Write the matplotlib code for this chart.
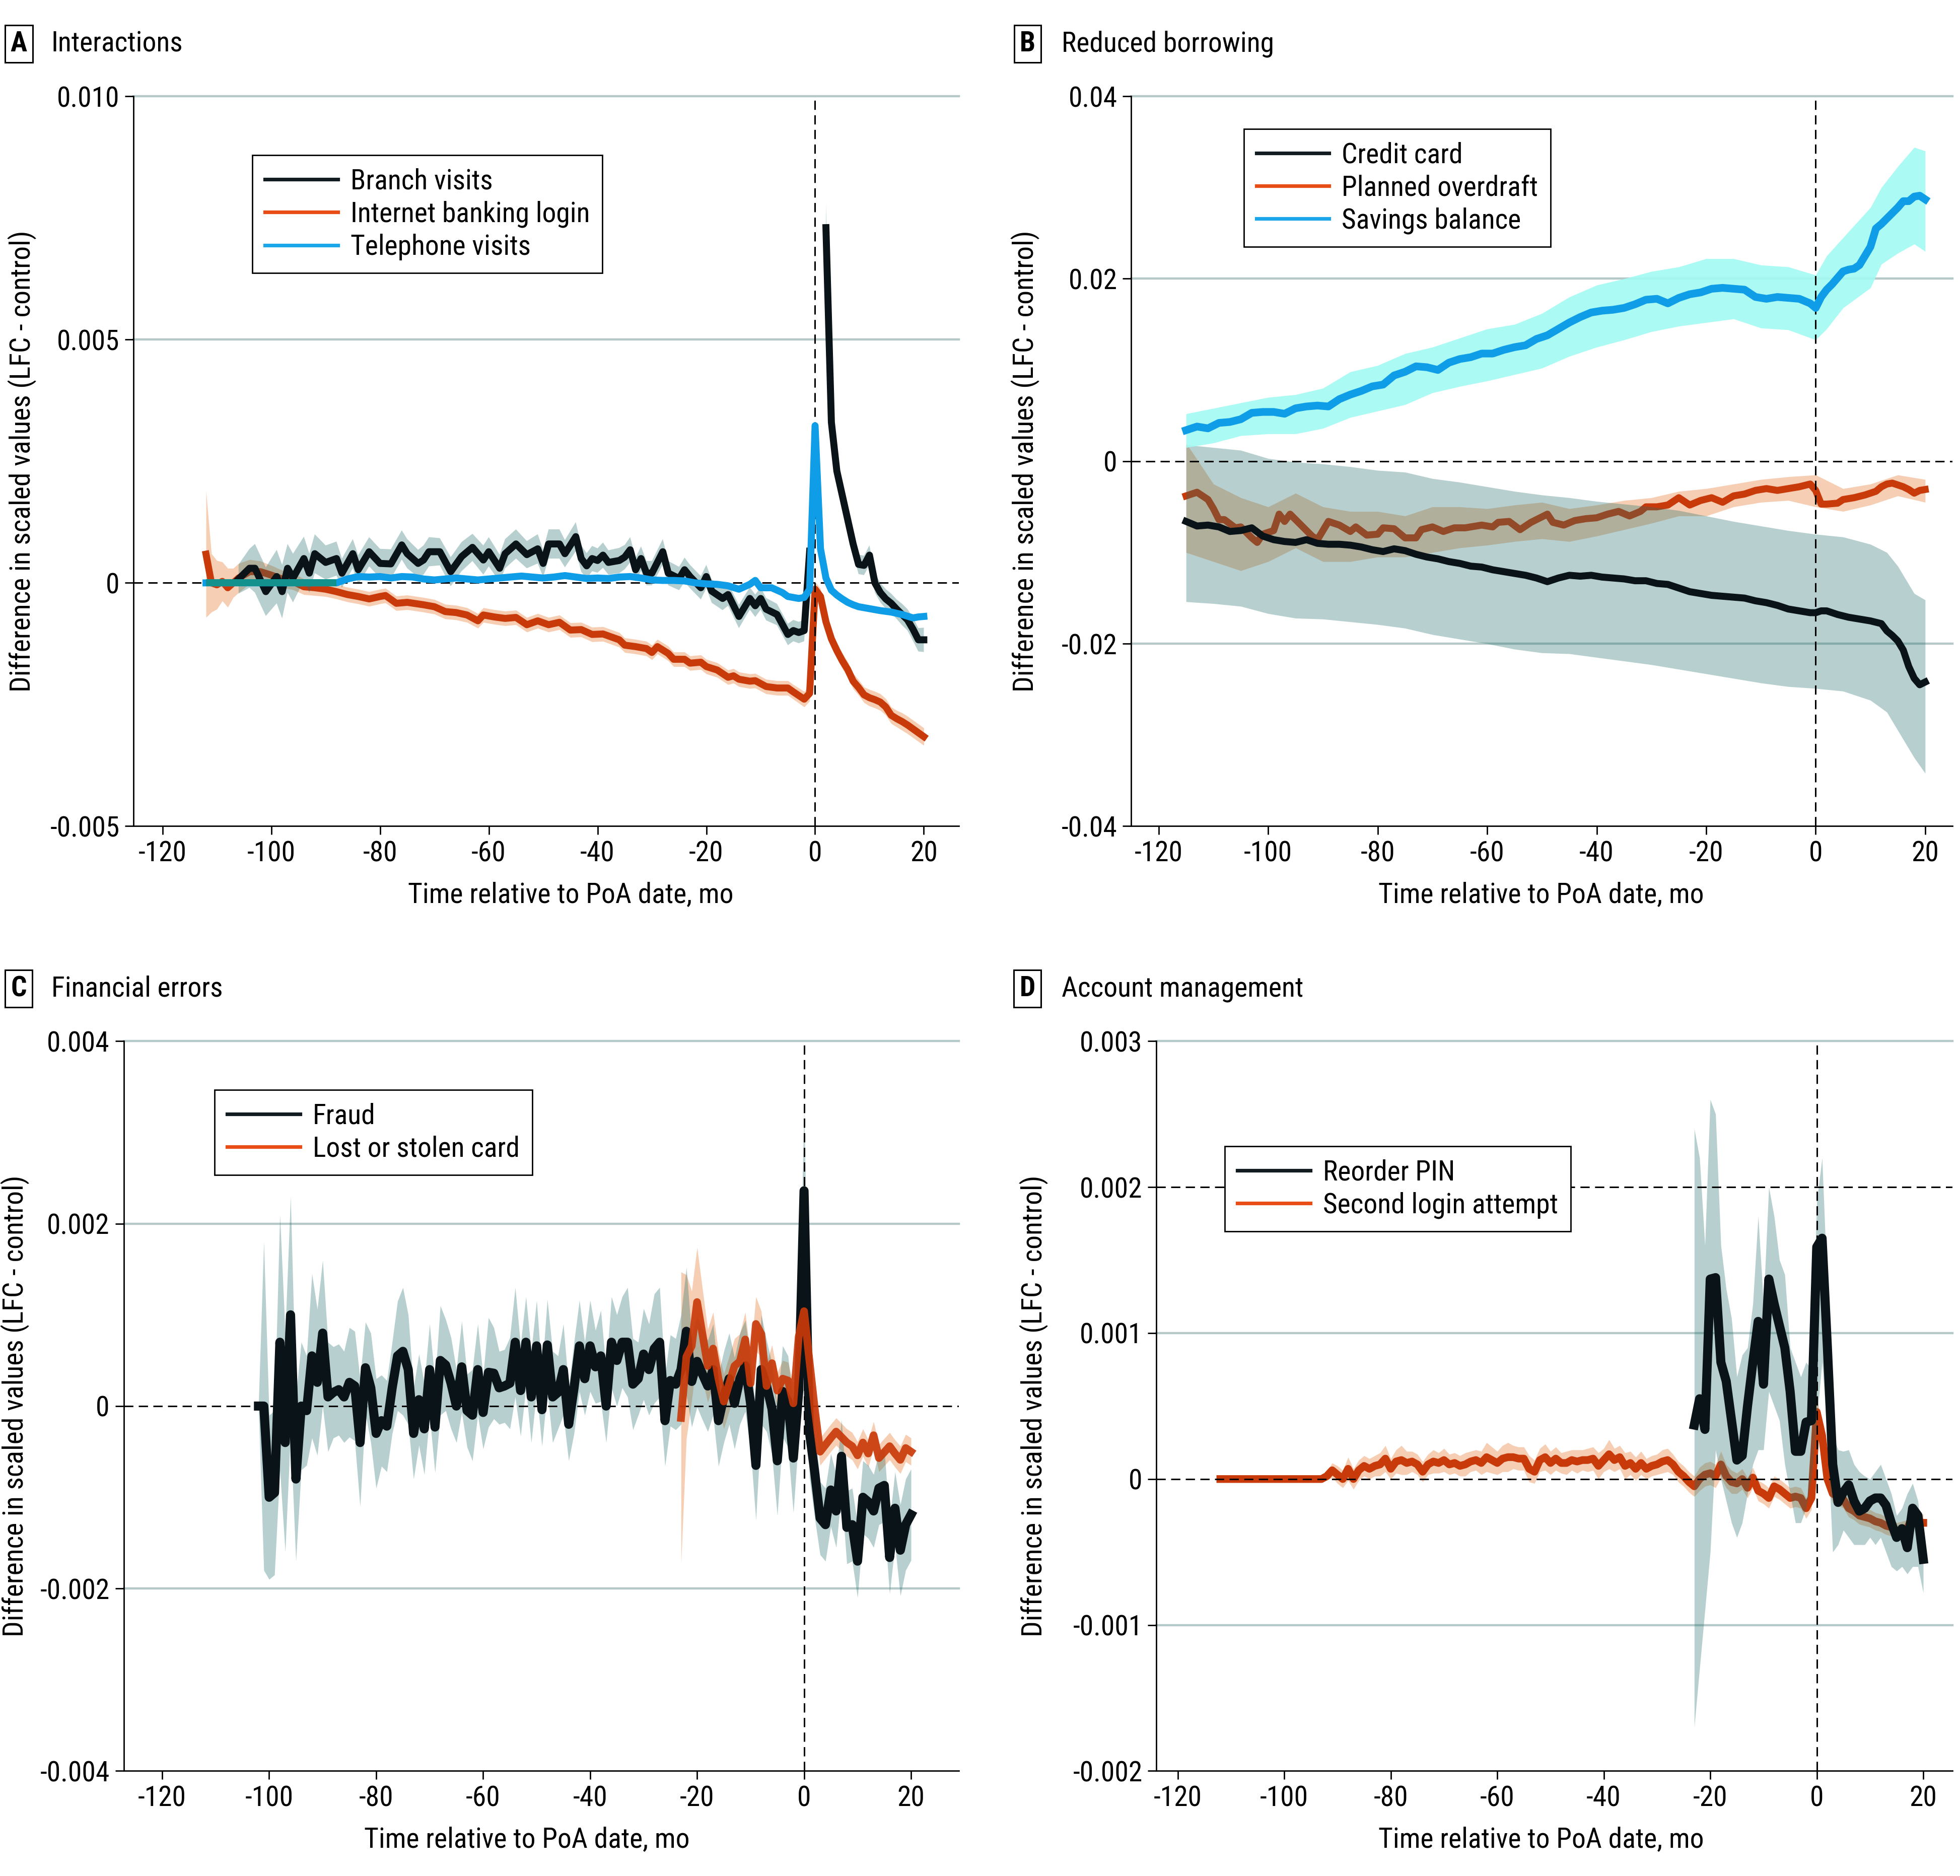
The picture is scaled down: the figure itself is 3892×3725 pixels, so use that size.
import matplotlib
matplotlib.use("Agg")
import matplotlib.pyplot as plt
from matplotlib import font_manager
from matplotlib.lines import Line2D
import numpy as np

nan = np.nan

# ---------------- Panel A: Interactions ----------------
branch_x = [-106, -104, -103, -101, -99, -98, -97, -96, -94, -93,
            -92, -90, -88, -87, -85, -84, -82, -80, -78, -76,
            -75, -73, -72, -71, -69, -67, -65, -63, -61, -60,
            -58, -57, -55, -53, -51, -50, -49, -47, -46, -44,
            -43, -42, -41, -40, -39, -38, -36, -35, -34, -33,
            -32, -31, -30, -28, -27, -25, -24, -23, -21, -20,
            -19, -17, -16, -14, -12, -11, -10, -9, -7, -5,
            -4, -3, -2, -1, 0, 1, 2, 3, 4, 5,
            6, 7, 8, 9, 10, 11, 12, 13, 14, 15,
            16, 17, 18, 19, 20]
branch_y = [0.00008, 0.0003, 0.0003, -0.00018, 0.00013, -0.00018, 0.0003, 0.0001, 0.0005, 0.0002,
            0.0006, 0.00042, 0.0005, 0.0002, 0.0006, 0.00027, 0.00064, 0.0004, 0.00039, 0.00078,
            0.0006, 0.0004, 0.00047, 0.00064, 0.00064, 0.00023, 0.00054, 0.00073, 0.00047, 0.00064,
            0.0003, 0.0006, 0.0008, 0.00058, 0.0007, 0.0004, 0.0008, 0.0008, 0.0006, 0.00095,
            0.0005, 0.00035, 0.0005, 0.00046, 0.00057, 0.00042, 0.00046, 0.00053, 0.00068, 0.00027,
            0.0005, 0.0002, 0.0002, 0.00064, 0.0002, 0.00009, 0.00027, 0.00013, -0.0001, 0.00013,
            -0.00017, -0.00032, -0.00024, -0.00069, -0.00032, -0.00047, -0.00032, -0.00054, -0.00065, -0.00106,
            -0.00098, -0.00102, -0.00098, 0.00065, nan, nan, 0.0073, 0.0033, 0.0023, 0.0018,
            0.0013, 0.0008, 0.00038, 0.00036, 0.00057, 0.0, -0.0002, -0.00033, -0.00042, -0.00054,
            -0.00065, -0.00076, -0.00095, -0.00117, -0.00117]
branch_hw = [0.0003, 0.0004, 0.0005, 0.0005, 0.00055, 0.00055, 0.0005, 0.0005, 0.00045, 0.0004,
             0.0004, 0.00035, 0.00035, 0.0003, 0.0003, 0.0003, 0.0003, 0.0003, 0.0003, 0.0003,
             0.0003, 0.00028, 0.0003, 0.0003, 0.00028, 0.0003, 0.0003, 0.00028, 0.0003, 0.0003,
             0.00028, 0.0003, 0.0003, 0.00028, 0.0003, 0.00028, 0.0003, 0.0003, 0.00028, 0.0003,
             0.00027, 0.00026, 0.00026, 0.00025, 0.00026, 0.00025, 0.00026, 0.00025, 0.00026, 0.00025,
             0.00025, 0.00025, 0.00025, 0.00026, 0.00025, 0.00024, 0.00025, 0.00024, 0.00024, 0.00024,
             0.00024, 0.00024, 0.00023, 0.00024, 0.00023, 0.00023, 0.00023, 0.00023, 0.00022, 0.00022,
             0.00022, 0.00022, 0.00022, 0.0002, nan, nan, 0.0005, 0.0002, 0.0002, 0.0002,
             0.0002, 0.0002, 0.0002, 0.0002, 0.0002, 0.0002, 0.0002, 0.0002, 0.0002, 0.0002,
             0.00022, 0.00022, 0.00024, 0.00024, 0.00025]

tel_x = [-112, -88, -86, -84, -82, -80, -78, -76, -74, -72,
         -70, -68, -66, -64, -62, -60, -58, -56, -54, -52,
         -50, -48, -46, -44, -42, -40, -38, -36, -34, -32,
         -30, -28, -26, -24, -22, -20, -18, -16, -14, -12,
         -11, -10, -8, -6, -5, -3, -2, -1, 0, 1,
         2, 3, 4, 5, 6, 7, 8, 10, 12, 14,
         16, 18, 19, 20]
tel_y = [0.0, 0.0, 0.00008, 0.00013, 0.00012, 0.00013, 0.0001, 0.00013, 0.00012, 0.00008,
         0.00006, 0.00008, 0.0001, 0.00008, 0.00006, 0.00008, 0.0001, 0.00012, 0.00014, 0.00012,
         0.0001, 0.00012, 0.00015, 0.00012, 0.00009, 0.0001, 0.00009, 0.00012, 0.00013, 0.0001,
         0.00006, 0.00005, 0.00005, 0.00004, 0.0, -0.00002, -0.00003, -0.00006, -0.00013, -0.00003,
         0.00005, -0.0001, -0.0001, -0.0002, -0.00028, -0.00032, -0.0003, -0.00013, 0.00323, 0.0007,
         0.0001, -0.00015, -0.00025, -0.00033, -0.0004, -0.00045, -0.00049, -0.00053, -0.00057, -0.0006,
         -0.00065, -0.00072, -0.0007, -0.00069]

net_x = [-112, -111, -110, -109, -108, -107, -106, -104, -102, -100,
         -98, -96, -94, -92, -90, -88, -86, -84, -82, -80,
         -79, -77, -75, -72, -70, -68, -66, -64, -62, -61,
         -59, -57, -55, -53, -51, -49, -47, -45, -43, -41,
         -39, -38, -36, -35, -33, -31, -30, -29, -27, -26,
         -24, -23, -21, -20, -18, -16, -15, -14, -12, -11,
         -9, -7, -5, -4, -2, -1, 0, 1, 2, 3,
         4, 5, 6, 7, 8, 9, 10, 11, 12, 13,
         14, 15, 16, 17, 18, 19, 20]
net_y = [0.00059, 0.0, -0.00004, 0.00003, -0.0001, 0.0, 0.0001, 0.00023, 0.00023, 0.00016,
         0.00008, 0.00003, -0.00008, -0.0001, -0.00013, -0.00018, -0.00024, -0.00028, -0.00033, -0.00028,
         -0.00026, -0.00042, -0.0004, -0.00045, -0.00049, -0.00059, -0.00061, -0.00066, -0.00078, -0.00066,
         -0.0007, -0.00073, -0.00071, -0.00086, -0.00078, -0.00086, -0.00081, -0.00097, -0.00096, -0.00106,
         -0.00105, -0.00109, -0.00117, -0.00128, -0.00131, -0.00135, -0.00143, -0.00131, -0.00145, -0.00157,
         -0.00157, -0.00165, -0.00163, -0.00172, -0.00179, -0.00194, -0.00191, -0.00198, -0.00202, -0.00201,
         -0.00213, -0.00216, -0.00216, -0.00224, -0.00239, -0.00227, -0.00013, -0.00028, -0.0008, -0.00115,
         -0.00139, -0.0016, -0.00178, -0.00202, -0.00215, -0.0023, -0.00236, -0.0024, -0.00245, -0.00255,
         -0.00272, -0.00279, -0.00285, -0.00292, -0.003, -0.00308, -0.00316]
net_hw = [0.0013, 0.0006, 0.0005, 0.0004, 0.0004, 0.0003, 0.0003, 0.00025, 0.00022, 0.0002,
          0.00018, 0.00017, 0.00016, 0.00016, 0.00015, 0.00015, 0.00015, 0.00015, 0.00015, 0.00015,
          0.00015, 0.00015, 0.00015, 0.00015, 0.00015, 0.00015, 0.00015, 0.00015, 0.00015, 0.00015,
          0.00015, 0.00015, 0.00015, 0.00015, 0.00015, 0.00015, 0.00015, 0.00015, 0.00015, 0.00015,
          0.00015, 0.00015, 0.00015, 0.00015, 0.00015, 0.00015, 0.00015, 0.00015, 0.00015, 0.00015,
          0.00015, 0.00015, 0.00015, 0.00015, 0.00015, 0.00015, 0.00015, 0.00015, 0.00015, 0.00015,
          0.00015, 0.00015, 0.00015, 0.00015, 0.00016, 0.00016, 0.00016, 0.00016, 0.00016, 0.00016,
          0.00016, 0.00016, 0.00016, 0.00016, 0.00016, 0.00016, 0.00017, 0.00017, 0.00017, 0.00017,
          0.00017, 0.00017, 0.00018, 0.00018, 0.00018, 0.00018, 0.00018]

# ---------------- Panel B: Reduced borrowing ----------------
savings_x = [-115, -113, -111, -109, -107, -105, -103, -101, -99, -97,
             -95, -93, -91, -89, -87, -85, -83, -81, -79, -77,
             -75, -73, -71, -69, -67, -65, -63, -61, -59, -57,
             -55, -53, -51, -49, -47, -45, -43, -41, -39, -37,
             -35, -33, -31, -29, -27, -25, -23, -21, -19, -17,
             -15, -13, -11, -9, -7, -5, -3, -1,
             0, 1, 2, 3, 4, 5, 6, 7, 8, 9, 10,
             11, 12, 13, 14, 15, 16, 17, 18, 19, 20]
savings_y = [0.0034, 0.0038, 0.0036, 0.0042, 0.0043, 0.0046, 0.0053, 0.0054, 0.0054, 0.0052,
             0.0058, 0.0060, 0.0061, 0.0060, 0.0068, 0.0073, 0.0077, 0.0082, 0.0084, 0.0094,
             0.0098, 0.0104, 0.0103, 0.0100, 0.0108, 0.0112, 0.0114, 0.0118, 0.0118, 0.0122,
             0.0125, 0.0127, 0.0134, 0.0138, 0.0145, 0.0152, 0.0158, 0.0163, 0.0165, 0.0166,
             0.0168, 0.0172, 0.0177, 0.0178, 0.0173, 0.0179, 0.0183, 0.0185, 0.0189, 0.0190,
             0.0189, 0.0188, 0.0180, 0.0178, 0.0180, 0.0179, 0.0178, 0.0173,
             0.0168, 0.0180, 0.0188, 0.0194, 0.0201, 0.0208, 0.0210, 0.0211, 0.0215, 0.0225, 0.0235,
             0.0255, 0.0260, 0.0266, 0.0272, 0.0278, 0.0285, 0.0285, 0.0290, 0.0291, 0.0287]
sav_band_x = [-115, -110, -105, -100, -95, -90, -85, -80, -75, -70,
              -65, -60, -55, -50, -45, -40, -35, -30, -25, -20,
              -15, -10, -5, 0, 2, 5, 10, 12, 15, 18, 20]
sav_hi = [0.0052, 0.0058, 0.0064, 0.0070, 0.0073, 0.0080, 0.0098, 0.0105, 0.0118, 0.0125,
          0.0135, 0.0145, 0.0150, 0.0162, 0.0180, 0.0193, 0.0200, 0.0208, 0.0213, 0.0222,
          0.0222, 0.0215, 0.0213, 0.0204, 0.0225, 0.0245, 0.0278, 0.0300, 0.0323, 0.0344, 0.0340]
sav_lo = [0.0015, 0.0020, 0.0028, 0.0030, 0.0030, 0.0036, 0.0048, 0.0055, 0.0062, 0.0075,
          0.0082, 0.0088, 0.0095, 0.0102, 0.0115, 0.0125, 0.0133, 0.0142, 0.0148, 0.0152,
          0.0156, 0.0146, 0.0144, 0.0133, 0.0145, 0.0168, 0.0190, 0.0216, 0.0228, 0.0238, 0.0230]

credit_x = [-115, -113, -111, -109, -107, -105, -103, -101, -99, -97,
            -95, -93, -91, -89, -87, -85, -83, -81, -79, -77,
            -75, -73, -71, -69, -67, -65, -63, -61, -59, -57,
            -55, -53, -51, -49, -47, -45, -43, -41, -39, -37,
            -35, -33, -31, -29, -27, -25, -23, -21, -19, -17,
            -15, -13, -11, -9, -7, -5, -3, -1,
            0, 1, 2, 4, 6, 8, 10, 12, 13, 14, 15, 16, 17, 18, 19, 20]
credit_y = [-0.0066, -0.0071, -0.0070, -0.0072, -0.0077, -0.0076, -0.0073, -0.0082, -0.0086, -0.0088,
            -0.0089, -0.0086, -0.0090, -0.0091, -0.0091, -0.0092, -0.0094, -0.0097, -0.0099, -0.0096,
            -0.0098, -0.0102, -0.0105, -0.0107, -0.0110, -0.0112, -0.0115, -0.0116, -0.0119, -0.0121,
            -0.0123, -0.0125, -0.0128, -0.0132, -0.0128, -0.0125, -0.0126, -0.0125, -0.0127, -0.0128,
            -0.0129, -0.0131, -0.0131, -0.0134, -0.0135, -0.0139, -0.0143, -0.0145, -0.0147, -0.0148,
            -0.0149, -0.0150, -0.0153, -0.0155, -0.0158, -0.0162, -0.0164, -0.0166,
            -0.0166, -0.0164, -0.0164, -0.0168, -0.0171, -0.0173, -0.0175, -0.0178, -0.0186, -0.0191,
            -0.0197, -0.0207, -0.0225, -0.0238, -0.0245, -0.0242]
credit_band_x = [-115, -110, -105, -100, -95, -90, -85, -80, -75, -70,
                 -65, -60, -55, -50, -45, -40, -35, -30, -25, -20,
                 -15, -10, -5, 0, 5, 10, 13, 15, 17, 18, 20]
credit_hi = [0.0018, 0.0015, 0.0012, 0.0003, -0.0001, -0.0003, -0.0006, -0.0010, -0.0012, -0.0019,
             -0.0023, -0.0028, -0.0033, -0.0037, -0.0040, -0.0044, -0.0047, -0.0050, -0.0054, -0.0060,
             -0.0066, -0.0071, -0.0076, -0.0080, -0.0083, -0.0091, -0.0100, -0.0115, -0.0135, -0.0145, -0.0152]
credit_lo = [-0.0154, -0.0156, -0.0159, -0.0167, -0.0172, -0.0173, -0.0176, -0.0179, -0.0183, -0.0190,
             -0.0195, -0.0200, -0.0206, -0.0210, -0.0211, -0.0215, -0.0219, -0.0223, -0.0228, -0.0233,
             -0.0238, -0.0243, -0.0247, -0.0249, -0.0252, -0.0262, -0.0275, -0.0295, -0.0315, -0.0325, -0.0342]

od_x = [-115, -113, -111, -110, -109, -108, -106, -105, -103, -102,
        -101, -99, -98, -97, -96, -94, -92, -91, -89, -87,
        -85, -84, -82, -80, -79, -77, -75, -73, -72, -70,
        -68, -66, -64, -61, -59, -58, -56, -54, -52, -49,
        -48, -46, -44, -42, -40, -38, -36, -34, -32, -31,
        -29, -27, -25, -23, -21, -19, -17, -15, -13, -11,
        -9, -7, -5, -3, -1, 0, 1, 2, 4, 5,
        7, 9, 11, 12, 13, 14, 15, 16, 17, 18, 19, 20]
od_y = [-0.0038, -0.0034, -0.0042, -0.0052, -0.0064, -0.0064, -0.0073, -0.0072, -0.0084, -0.0089,
        -0.0080, -0.0076, -0.0058, -0.0066, -0.0058, -0.0070, -0.0082, -0.0086, -0.0066, -0.0070,
        -0.0077, -0.0072, -0.0081, -0.0080, -0.0073, -0.0074, -0.0084, -0.0084, -0.0075, -0.0072,
        -0.0077, -0.0073, -0.0073, -0.0070, -0.0072, -0.0067, -0.0066, -0.0075, -0.0067, -0.0058,
        -0.0067, -0.0070, -0.0065, -0.0063, -0.0062, -0.0058, -0.0055, -0.0060, -0.0055, -0.0050,
        -0.0050, -0.0048, -0.0040, -0.0048, -0.0043, -0.0040, -0.0045, -0.0038, -0.0036, -0.0032,
        -0.0030, -0.0032, -0.0030, -0.0028, -0.0025, -0.0032, -0.0047, -0.0047, -0.0046, -0.0042,
        -0.0040, -0.0037, -0.0033, -0.0028, -0.0025, -0.0024, -0.0026, -0.0028, -0.0031, -0.0035, -0.0032, -0.0031]
od_band_x = [-115, -110, -105, -100, -95, -90, -85, -80, -75, -70,
             -65, -60, -55, -50, -45, -40, -35, -30, -25, -20,
             -15, -10, -5, 0, 5, 10, 15, 20]
od_hi = [0.0020, -0.0025, -0.0040, -0.0050, -0.0035, -0.0050, -0.0055, -0.0055, -0.0060, -0.0050,
         -0.0050, -0.0052, -0.0048, -0.0045, -0.0052, -0.0048, -0.0043, -0.0040, -0.0033, -0.0030,
         -0.0025, -0.0020, -0.0017, -0.0015, -0.0030, -0.0025, -0.0015, -0.0020]
od_lo = [-0.0100, -0.0110, -0.0120, -0.0110, -0.0095, -0.0110, -0.0110, -0.0105, -0.0105, -0.0100,
         -0.0095, -0.0092, -0.0088, -0.0085, -0.0088, -0.0082, -0.0075, -0.0068, -0.0060, -0.0060,
         -0.0050, -0.0045, -0.0043, -0.0050, -0.0055, -0.0048, -0.0038, -0.0045]

# ---------------- Panel C: Financial errors ----------------
fraud_x = list(range(-102, 21))
fraud_y = [0.0, 0.0, -0.001, -0.00095, 0.0007, -0.0004, 0.001, -0.0008, 0.0, -0.00005,
           0.00055, 0.00026, 0.0008, 0.0001, 0.00015, 0.00018, 0.0001, 0.00026, 0.00022, -0.0004,
           0.00042, 0.0002, -0.0003, -0.00016, -0.00022, 0.0002, 0.00055, 0.0006, 0.0004, -0.0003,
           0.00007, -0.00025, 0.0004, -0.00023, 0.0005, 0.00045, 0.00025, 0.0, 0.00043, -0.00005,
           -0.0001, 0.0004, -0.00007, 0.00037, 0.00036, 0.0002, 0.00022, 0.00025, 0.0007, 0.00017,
           0.0007, 0.0001, 0.00066, -0.00004, 0.00067, 0.0001, 0.00015, 0.0004, -0.0002, 0.0002,
           0.00066, 0.0003, 0.00066, 0.00043, 0.00055, 0.0, 0.0007, 0.0005, 0.0007, 0.0007,
           0.00024, 0.0003, 0.00057, 0.0004, 0.00063, 0.0007, -0.00016, 0.00028, 0.00024, 0.0004,
           0.00082, 0.00027, 0.00049, 0.00035, 0.00022, 0.0004, -0.00016, 0.0001, 0.0003, 0.00003,
           0.0003, 0.00044, 0.00003, -0.00065, 0.0004, 0.00022, -0.00003, -0.0006, 0.00016, 0.00005,
           -0.00057, 0.00016, 0.00236, -0.00028, -0.00073, -0.00123, -0.0013, -0.00092, -0.00115, -0.00055,
           -0.00133, -0.0013, -0.0017, -0.001, -0.00105, -0.00115, -0.0009, -0.00087, -0.00166, -0.00112,
           -0.00158, -0.0013, -0.00119]
fraud_hw = [0.0, 0.0018, 0.0009, 0.0009, 0.0014, 0.0012, 0.0013, 0.0009, 0.0007, 0.0006,
            0.0009, 0.0008, 0.0008, 0.0006, 0.0005, 0.0005, 0.0005, 0.0006, 0.0006, 0.0007,
            0.0005, 0.0006, 0.0006, 0.0005, 0.0005, 0.0005, 0.0006, 0.0007, 0.0006, 0.0005,
            0.0005, 0.0005, 0.0005, 0.0005, 0.0006, 0.0005, 0.0005, 0.0004, 0.0005, 0.0004,
            0.0005, 0.0005, 0.0004, 0.0006, 0.0005, 0.0004, 0.0004, 0.0005, 0.0006, 0.0005,
            0.0005, 0.0005, 0.0005, 0.0004, 0.0005, 0.0005, 0.0004, 0.0005, 0.0004, 0.0005,
            0.0005, 0.0004, 0.0005, 0.0004, 0.0005, 0.0004, 0.0005, 0.0005, 0.0005, 0.0006,
            0.0005, 0.0004, 0.0005, 0.0005, 0.0006, 0.0006, 0.0005, 0.0005, 0.0005, 0.0006,
            0.0007, 0.0005, 0.0005, 0.0005, 0.0005, 0.0005, 0.0005, 0.0005, 0.0005, 0.0005,
            0.0005, 0.0005, 0.0005, 0.0006, 0.0006, 0.0005, 0.0005, 0.0006, 0.0005, 0.0005,
            0.0006, 0.0005, 0.0009, 0.0005, 0.0005, 0.0004, 0.0004, 0.0004, 0.0004, 0.0004,
            0.0004, 0.0004, 0.0004, 0.0004, 0.0004, 0.0004, 0.0004, 0.0004, 0.0004, 0.0004,
            0.0005, 0.0005, 0.0005]

lost_x = [-23, -22, -21, -20, -18, -17, -16, -15, -13, -12,
          -11, -10, -9, -8, -7, -6, -5, -4, -3, -2,
          -1, 0, 1, 2, 3, 5, 6, 8, 9, 10,
          11, 12, 13, 14, 16, 17, 18, 19, 20]
lost_y = [-0.00013, 0.00054, 0.00066, 0.00114, 0.00044, 0.00063, 0.0003, 0.00005, 0.00044, 0.00049,
          0.00073, 0.00025, 0.0009, 0.00079, 0.00022, 0.00047, 0.00017, 0.0003, 0.00028, 0.00003,
          0.00076, 0.00104, 0.0005, -0.00003, -0.0005, -0.00035, -0.00028, -0.0004, -0.00044, -0.00054,
          -0.0004, -0.00052, -0.00032, -0.00057, -0.00044, -0.00052, -0.00059, -0.00046, -0.0005]
lost_hw = [0.0016, 0.0009, 0.0006, 0.0006, 0.0004, 0.0004, 0.0003, 0.0003, 0.0003, 0.0003,
           0.0003, 0.0003, 0.0003, 0.00025, 0.00025, 0.0002, 0.0002, 0.0002, 0.0002, 0.0002,
           0.0002, 0.00025, 0.0002, 0.00015, 0.00015, 0.00015, 0.00015, 0.00015, 0.00015, 0.00015,
           0.00015, 0.00015, 0.00015, 0.00015, 0.00015, 0.00015, 0.00015, 0.00015, 0.00015]

# ---------------- Panel D: Account management ----------------
pin_x = list(range(-23, 21))
pin_y = [0.00037, 0.00055, 0.00034, 0.00137, 0.00138, 0.0008, 0.00067, 0.0004, 0.00013, 0.00016,
         0.0005, 0.0008, 0.00108, 0.00065, 0.00137, 0.0012, 0.00105, 0.0009, 0.0006, 0.00019,
         0.00019, 0.00039, 0.0004, 0.00159, 0.00165, 0.0009, 0.0001, -0.00016, -0.00009, -0.00004,
         -0.00015, -0.00022, -0.0002, -0.00015, -0.00013, -0.00013, -0.00018, -0.0003, -0.0004, -0.00034,
         -0.00047, -0.0002, -0.00025, -0.00055]
pin_hi = [0.0024, 0.0022, 0.0016, 0.0026, 0.0025, 0.0016, 0.0013, 0.0011, 0.0007, 0.00085,
          0.0009, 0.0012, 0.0018, 0.0012, 0.002, 0.0018, 0.0015, 0.0014, 0.0009, 0.0008,
          0.0007, 0.0008, 0.00075, 0.0019, 0.0022, 0.0013, 0.0003, 0.0002, 0.00019, 0.0002,
          0.0001, 0.00005, 0.00002, 0.0, 0.00005, 0.0001, 0.0, -0.0001, -0.00025, -0.0002,
          -0.0001, -0.00003, -0.00015, -0.0005]
pin_lo = [-0.0017, -0.0013, -0.0009, -0.0005, 0.0002, 0.0, -0.00015, -0.0003, -0.0004, -0.0003,
          -0.0001, 0.0001, 0.0002, 0.0002, 0.0006, 0.0005, 0.0004, 0.0001, -0.0001, -0.0003,
          -0.0003, -0.0002, 0.0, 0.0004, 0.0008, 0.0003, -0.0005, -0.00045, -0.00035, -0.0004,
          -0.00045, -0.00045, -0.00045, -0.0004, -0.00045, -0.0004, -0.0005, -0.0006, -0.00063, -0.0006,
          -0.00065, -0.0006, -0.0006, -0.00078]

login_x = [-112, -93] + list(range(-92, 21))
login_y = [0.0, 0.0,
           0.00002, 0.00006, 0.00003, 0.0, 0.00007, 0.0, 0.00006, 0.00009, 0.00007, 0.00009,
           0.0001, 0.00014, 0.00007, 0.00012, 0.00013, 0.00011, 0.00012, 0.0001, 0.00005, 0.0001,
           0.00012, 0.00011, 0.00013, 0.0001, 0.00011, 0.00009, 0.0001, 0.00012, 0.00013, 0.00011,
           0.00015, 0.00013, 0.00011, 0.00014, 0.00015, 0.00015, 0.00014, 0.00014, 0.00007, 0.00005,
           0.00013, 0.00015, 0.00011, 0.00014, 0.00011, 0.00011, 0.00013, 0.00012, 0.00013, 0.00013,
           0.00014, 0.00009, 0.00013, 0.00017, 0.00013, 0.00015, 0.00009, 0.00011, 0.00007, 0.00011,
           0.00007, 0.00009, 0.0001, 0.00012, 0.00013, 0.0001, 0.00005, 0.00002, -0.00002, -0.00005,
           0.0, 0.00003, 0.00004, 0.00002, 0.0001, 0.00002, -0.00002, -0.00003, 0.0, -0.00006,
           0.00001, -0.00008, -0.0001, -0.00013, -0.00005, -0.00007, -0.0001, -0.00013, -0.00012, -0.00013,
           -0.0002, -0.00013, 0.00046, 0.0003, 0.0, -0.0001, -0.00012, -0.00014, -0.0002, -0.00022,
           -0.00025, -0.00026, -0.00027, -0.00029, -0.0003, -0.00032, -0.00033, -0.00036, -0.00035, -0.00034,
           -0.00025, -0.0003, -0.0003]
login_hw = [0.0, 0.0,
            0.00003, 0.00005, 0.00006, 0.00006, 0.00008, 0.00007, 0.00007, 0.00007, 0.00007, 0.00007,
            0.00008, 0.00009, 0.00007, 0.00008, 0.0001, 0.00008, 0.00007, 0.00007, 0.00007, 0.00007,
            0.00008, 0.00007, 0.00008, 0.00007, 0.00007, 0.00007, 0.00008, 0.00007, 0.00007, 0.00008,
            0.0001, 0.00009, 0.00008, 0.00009, 0.0001, 0.00008, 0.00008, 0.00008, 0.00009, 0.00008,
            0.00008, 0.00009, 0.00008, 0.00008, 0.00007, 0.00008, 0.00007, 0.00008, 0.00007, 0.00008,
            0.00008, 0.00009, 0.00008, 0.0001, 0.00008, 0.00008, 0.00009, 0.00008, 0.00008, 0.00008,
            0.00007, 0.00007, 0.00007, 0.00008, 0.00008, 0.00007, 0.00007, 0.00007, 0.00007, 0.00007,
            0.00008, 0.00008, 0.00008, 0.00008, 0.00009, 0.00008, 0.00008, 0.00007, 0.00007, 0.00007,
            0.00007, 0.00007, 0.00007, 0.00007, 0.00007, 0.00007, 0.00007, 0.00007, 0.00007, 0.00007,
            0.00007, 0.00008, 0.0001, 0.00008, 0.00007, 0.00006, 0.00006, 0.00006, 0.00006, 0.00006,
            0.00006, 0.00006, 0.00006, 0.00006, 0.00006, 0.00006, 0.00006, 0.00006, 0.00006, 0.00006,
            0.00006, 0.00006, 0.00006]

xtick_vals = [-120, -100, -80, -60, -40, -20, 0, 20]


# ---------------- styling ----------------
def pick_font(names):
    for n in names:
        try:
            font_manager.findfont(font_manager.FontProperties(family=n),
                                  fallback_to_default=False)
            return n
        except Exception:
            pass
    return 'DejaVu Sans'


FONT = pick_font(['Liberation Sans Narrow', 'Roboto Condensed', 'Liberation Sans'])
plt.rcParams['font.family'] = [FONT, 'DejaVu Sans']
plt.rcParams['font.size'] = 20 if FONT != 'Liberation Sans' else 17.5

BLACK = '#0a1317'
ORANGE = '#c93a0b'
BLUE = '#0f9de8'
TEAL = '#13928d'
GREY_BAND = '#1f6e6a'
ORANGE_BAND = '#e8752a'
CYAN_BAND = '#a2fbf3'
GRID = '#b5c9c8'
LEG_BLACK = '#111b20'
LEG_ORANGE = '#e84d18'
LEG_BLUE = '#1ca6ea'

fig = plt.figure(figsize=(19.46, 18.625), dpi=200)


def band(ax, x, lo, hi, color, alpha, z):
    ax.fill_between(x, lo, hi, color=color, alpha=alpha, lw=0, zorder=z)


def setup(ax, xlim, ylim, yticks, ylabels, grid_y, dashed_y, ylab_x, xlab_x):
    ax.set_xlim(*xlim)
    ax.set_ylim(*ylim)
    ax.set_xticks(xtick_vals)
    ax.set_xticklabels([str(v) for v in xtick_vals])
    ax.set_yticks(yticks)
    ax.set_yticklabels(ylabels)
    for y in grid_y:
        ax.axhline(y, color=GRID, lw=1.6, zorder=0.5, clip_on=False)
    for y in dashed_y:
        ax.axhline(y, color='black', lw=1.1, ls=(0, (6, 3.5)), zorder=2.7)
    ax.axvline(0, color='black', lw=1.1, ls=(0, (6, 3.5)), zorder=2.7)
    for s in ['top', 'right']:
        ax.spines[s].set_visible(False)
    for s in ['left', 'bottom']:
        ax.spines[s].set_linewidth(1.0)
    ax.tick_params(direction='out', length=6, width=1.0, pad=4)
    ax.set_ylabel('Difference in scaled values (LFC - control)')
    ax.yaxis.set_label_coords(ylab_x, 0.5)
    ax.yaxis.label.set_va('center')
    ax.set_xlabel('Time relative to PoA date, mo')
    ax.xaxis.set_label_coords(xlab_x, -0.094)
    ax.xaxis.label.set_va('center')


def legend(ax, labels, colors, anchor):
    handles = [Line2D([0], [0], color=c, lw=2.6) for c in colors]
    lg = ax.legend(handles, labels, loc='upper left', bbox_to_anchor=anchor,
                   frameon=True, fancybox=False, edgecolor='black', framealpha=1,
                   handlelength=2.6, handletextpad=0.45, labelspacing=0.22,
                   borderpad=0.45, borderaxespad=0)
    lg.get_frame().set_linewidth(1.0)
    lg.set_zorder(10)


def panel_title(x_box, x_text, y, letter, text):
    fig.text(x_box, y, letter, fontweight='bold', ha='center', va='center',
             bbox=dict(boxstyle='square,pad=0.2', fc='white', ec='black', lw=1.1))
    fig.text(x_text, y, text, ha='left', va='center')


# ---- A ----
axA = fig.add_axes([0.0682, 0.5596, 0.4209, 0.3891])
bx, by, bh = np.array(branch_x), np.array(branch_y), np.array(branch_hw)
nx, ny, nh = np.array(net_x), np.array(net_y), np.array(net_hw)
band(axA, nx, ny - nh, ny + nh, ORANGE_BAND, 0.35, 1.5)
axA.plot(nx, ny, color=ORANGE, lw=5.0, zorder=2)
band(axA, bx, by - bh, by + bh, GREY_BAND, 0.32, 2.5)
axA.plot(bx, by, color=BLACK, lw=5.0, zorder=3)
axA.plot(tel_x, tel_y, color=BLUE, lw=5.0, zorder=3.5)
axA.plot(tel_x[:2], tel_y[:2], color=TEAL, lw=5.0, zorder=3.6, solid_capstyle='butt')
setup(axA, (-125.3, 26.4), (-0.005, 0.010), [-0.005, 0, 0.005, 0.010],
      ['-0.005', '0', '0.005', '0.010'], [0.005, 0.010], [0], -0.135, 0.53)
legend(axA, ['Branch visits', 'Internet banking login', 'Telephone visits'],
       [LEG_BLACK, LEG_ORANGE, LEG_BLUE], (0.144, 0.919))
panel_title(0.0096, 0.0261, 0.9767, 'A', 'Interactions')

# ---- B ----
axB = fig.add_axes([0.5772, 0.5596, 0.419, 0.3891])
band(axB, od_band_x, od_lo, od_hi, ORANGE_BAND, 0.35, 1.5)
axB.plot(od_x, od_y, color=ORANGE, lw=5.0, zorder=2)
band(axB, credit_band_x, credit_lo, credit_hi, GREY_BAND, 0.32, 2.5)
band(axB, sav_band_x, sav_lo, sav_hi, CYAN_BAND, 0.9, 2.6)
axB.plot(credit_x, credit_y, color=BLACK, lw=5.0, zorder=3)
axB.plot(savings_x, savings_y, color=BLUE, lw=5.5, zorder=3.5)
setup(axB, (-125.0, 25.0), (-0.04, 0.04), [-0.04, -0.02, 0, 0.02, 0.04],
      ['-0.04', '-0.02', '0', '0.02', '0.04'], [-0.02, 0.02, 0.04], [0], -0.129, 0.499)
legend(axB, ['Credit card', 'Planned overdraft', 'Savings balance'],
       [LEG_BLACK, LEG_ORANGE, LEG_BLUE], (0.137, 0.955))
panel_title(0.5242, 0.5415, 0.9767, 'B', 'Reduced borrowing')

# ---- C ----
axC = fig.add_axes([0.0631, 0.056, 0.426, 0.389])
fx, fy, fh = np.array(fraud_x), np.array(fraud_y), np.array(fraud_hw)
lx, ly, lh = np.array(lost_x), np.array(lost_y), np.array(lost_hw)
band(axC, lx, ly - lh, ly + lh, ORANGE_BAND, 0.35, 1.5)
band(axC, fx, fy - fh, fy + fh, GREY_BAND, 0.32, 2.5)
axC.plot(fx, fy, color=BLACK, lw=6.5, zorder=3)
axC.plot(lx, ly, color=ORANGE, lw=5.5, zorder=3.2, alpha=0.92)
setup(axC, (-127.2, 28.9), (-0.004, 0.004), [-0.004, -0.002, 0, 0.002, 0.004],
      ['-0.004', '-0.002', '0', '0.002', '0.004'], [-0.002, 0.002, 0.004], [0], -0.130, 0.483)
legend(axC, ['Fraud', 'Lost or stolen card'], [LEG_BLACK, LEG_ORANGE], (0.109, 0.933))
panel_title(0.0096, 0.0261, 0.4730, 'C', 'Financial errors')

# ---- D ----
axD = fig.add_axes([0.590, 0.056, 0.4062, 0.389])
gx, gy, gh = np.array(login_x), np.array(login_y), np.array(login_hw)
band(axD, gx, gy - gh, gy + gh, ORANGE_BAND, 0.35, 1.5)
axD.plot(gx, gy, color=ORANGE, lw=5.5, zorder=2)
band(axD, pin_x, pin_lo, pin_hi, GREY_BAND, 0.32, 2.5)
axD.plot(pin_x, pin_y, color=BLACK, lw=6.5, zorder=3)
setup(axD, (-124.0, 25.5), (-0.002, 0.003), [-0.002, -0.001, 0, 0.001, 0.002, 0.003],
      ['-0.002', '-0.001', '0', '0.001', '0.002', '0.003'], [-0.001, 0.001, 0.003], [0, 0.002],
      -0.154, 0.483)
legend(axD, ['Reorder PIN', 'Second login attempt'], [LEG_BLACK, LEG_ORANGE], (0.086, 0.856))
panel_title(0.5242, 0.5415, 0.4730, 'D', 'Account management')

fig.savefig('out.png', dpi=200)
